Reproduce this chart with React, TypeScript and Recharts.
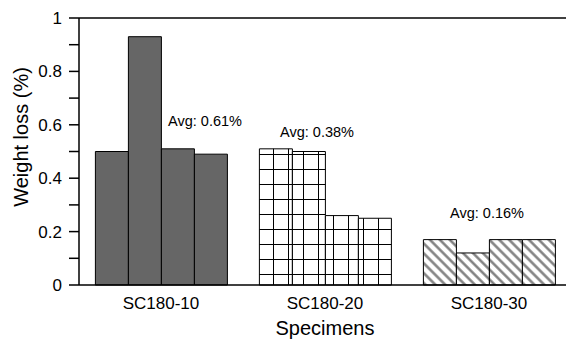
import React from 'react';
import { BarChart, Bar, XAxis, YAxis, Cell, ReferenceLine, ReferenceDot } from 'recharts';

const categories = ['SC180-10', 'SC180-20', 'SC180-30'];
const specimen1 = [0.5, 0.51, 0.17];
const specimen2 = [0.93, 0.5, 0.12];
const specimen3 = [0.51, 0.26, 0.17];
const specimen4 = [0.49, 0.25, 0.17];
const avgLabels = ['Avg: 0.61%', 'Avg: 0.38%', 'Avg: 0.16%'];
const avgLabelY = [0.614, 0.573, 0.27];
const yTicks = [0, 0.1, 0.2, 0.3, 0.4, 0.5, 0.6, 0.7, 0.8, 0.9, 1];

const data = categories.map((c, i) => ({
  name: c,
  s1: specimen1[i],
  s2: specimen2[i],
  s3: specimen3[i],
  s4: specimen4[i],
}));

const FONT = '"Liberation Sans", Arial, sans-serif';
const fills = ['#666666', 'url(#gridPat)', 'url(#hatchPat)'];
const labelDx = [44, -8, -2];
const seriesKeys = ['s1', 's2', 's3', 's4'];

export default function App() {
  return (
    <div style={{ position: 'absolute', left: 0, top: 0, width: 566, height: 342, overflow: 'hidden', background: '#fff' }}>
      <BarChart
        width={571}
        height={342}
        data={data}
        margin={{ top: 18, right: 0, bottom: 0, left: 0 }}
        barCategoryGap="10%"
        barGap={0}
        style={{ fontFamily: FONT }}
      >
        <defs>
          <pattern id="gridPat" patternUnits="userSpaceOnUse" width={15} height={15} x={3} y={4}>
            <rect x={0} y={0} width={15} height={15} fill="#ffffff" />
            <line x1={0} y1={0} x2={15} y2={0} stroke="#000" strokeWidth={2} />
            <line x1={0} y1={0} x2={0} y2={15} stroke="#000" strokeWidth={2} />
          </pattern>
          <pattern id="hatchPat" patternUnits="userSpaceOnUse" width={7} height={10} patternTransform="rotate(-45)">
            <rect x={0} y={0} width={7} height={10} fill="#ffffff" />
            <line x1={1.5} y1={0} x2={1.5} y2={10} stroke="#7a7a7a" strokeWidth={2.4} />
          </pattern>
        </defs>
        <XAxis
          dataKey="name"
          height={57}
          tickLine={false}
          tickSize={0}
          tickMargin={0}
          axisLine={{ stroke: '#000', strokeWidth: 1.5 }}
          interval={0}
          tick={(props: any) => (
            <text x={props.x} y={props.y + 24} textAnchor="middle" fontSize={17} fill="#000" fontFamily={FONT}>
              {props.payload.value}
            </text>
          )}
          label={{
            content: (props: any) => {
              const vb = props.viewBox;
              return (
                <text x={vb.x + 246} y={vb.y + 50} textAnchor="middle" fontSize={20} fill="#000" fontFamily={FONT}>
                  Specimens
                </text>
              );
            },
          }}
        />
        <YAxis
          width={79}
          domain={[0, 1]}
          ticks={yTicks}
          interval={0}
          tickSize={10}
          tickMargin={7}
          tickLine={{ stroke: '#000', strokeWidth: 1.5 }}
          axisLine={{ stroke: '#000', strokeWidth: 1.5 }}
          tick={{ fontSize: 17, fill: '#000', fontFamily: FONT }}
          tickFormatter={(v: number) => {
            const r = Math.round(v * 10);
            return r % 2 === 0 ? String(Math.round(v * 10) / 10) : '';
          }}
          label={{
            content: () => (
              <text
                x={0}
                y={0}
                transform="translate(21,137) rotate(-90)"
                textAnchor="middle"
                dominantBaseline="central"
                fontSize={20}
                fill="#000"
                fontFamily={FONT}
              >
                Weight loss (%)
              </text>
            ),
          }}
        />
        <ReferenceLine y={1} stroke="#000" strokeWidth={1.5} />
        {seriesKeys.map((k) => (
          <Bar key={k} dataKey={k} stroke="#000" strokeWidth={1} isAnimationActive={false}>
            {data.map((d, i) => (
              <Cell key={i} fill={fills[i]} />
            ))}
          </Bar>
        ))}
        {categories.map((c, i) => (
          <ReferenceDot
            key={c}
            x={c}
            y={avgLabelY[i]}
            r={0}
            fill="none"
            stroke="none"
            label={{
              content: (props: any) => {
                const vb = props.viewBox;
                const cx = vb.x + (vb.width || 0) / 2;
                const cy = vb.y + (vb.height || 0) / 2;
                return (
                  <text x={cx + labelDx[i]} y={cy} textAnchor="middle" dominantBaseline="central" fontSize={14.5} fill="#000" fontFamily={FONT}>
                    {avgLabels[i]}
                  </text>
                );
              },
            }}
          />
        ))}
      </BarChart>
    </div>
  );
}
